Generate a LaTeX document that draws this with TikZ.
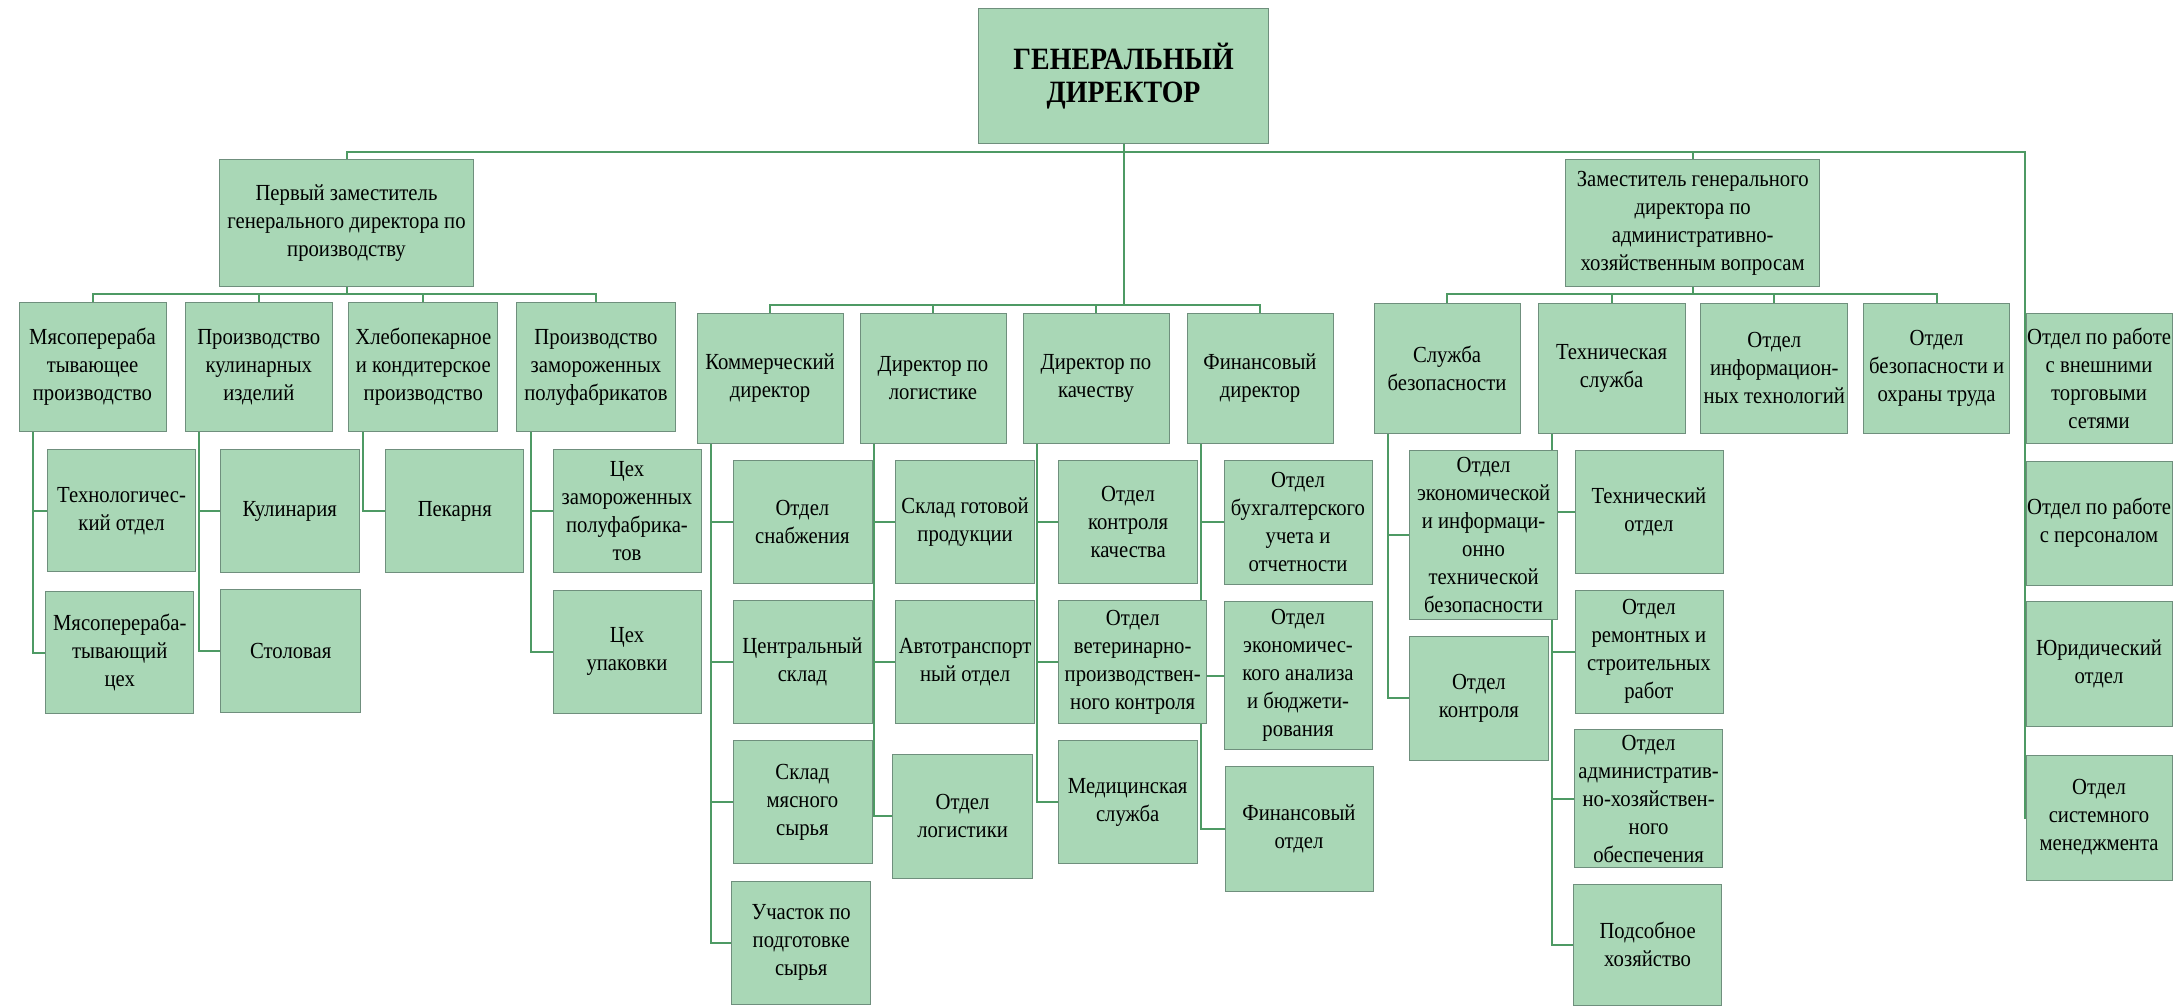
\documentclass[tikz,border=0pt]{standalone}
\usepackage{fontspec}
\setmainfont{Liberation Serif}[FakeStretch=0.9]
\usetikzlibrary{backgrounds}
\definecolor{boxgreen}{HTML}{A9D7B6}
\definecolor{boxedge}{HTML}{6F8F7D}
\definecolor{linkgreen}{HTML}{4E9A64}

\begin{document}
\begin{tikzpicture}[
      x=1pt, y=-1pt,
      unit/.style={draw=boxedge, fill=boxgreen, line width=0.8pt, align=center, inner sep=1pt,
        font=\fontsize{23}{28}\selectfont},
      boxsize/.style 2 args={minimum width=#1, minimum height=#2},
      link/.style={draw=linkgreen, line width=2pt}
    ]
      \def\off{14.5}
      \useasboundingbox (0,0) rectangle (2176,1005);

      % Management
      \node[unit, boxsize={290}{135}, font=\bfseries\fontsize{31}{33}\selectfont] (gd) at (1123.6,75.7) {ГЕНЕРАЛЬНЫЙ\\ДИРЕКТОР};
      \node[unit, boxsize={254}{127}] (pz) at (346.5,222.8) {Первый заместитель\\генерального директора по\\производству};
      \node[unit, boxsize={254}{127}] (zah) at (1692.7,223.3) {Заместитель генерального\\директора по\\административно-\\хозяйственным вопросам};

      % Production
      \node[unit, boxsize={147}{129}] (mpp) at (92.5,367.2) {Мясоперераба\\тывающее\\производство};
      \node[unit, boxsize={147}{129}] (kul) at (258.8,367.2) {Производство\\кулинарных\\изделий};
      \node[unit, boxsize={149}{129}] (hleb) at (423.3,367.2) {Хлебопекарное\\и кондитерское\\производство};
      \node[unit, boxsize={159}{129}] (zpf) at (596,367.2) {Производство\\замороженных\\полуфабрикатов};

      \node[unit, boxsize={148}{122}] (tech) at (121.6,510.8) {Технологичес-\\кий отдел};
      \node[unit, boxsize={148}{122}] (mpc) at (119.8,652.5) {Мясоперераба-\\тывающий\\цех};
      \node[unit, boxsize={139}{123}] (kulin) at (289.7,511.3) {Кулинария};
      \node[unit, boxsize={140}{123}] (stol) at (290.8,651.3) {Столовая};
      \node[unit, boxsize={138}{123}] (pek) at (454.8,511.3) {Пекарня};
      \node[unit, boxsize={148}{123}] (chz) at (627,511.3) {Цех\\замороженных\\полуфабрика-\\тов};
      \node[unit, boxsize={148}{123}] (chu) at (627,651.7) {Цех\\упаковки};

      % Directors
      \node[unit, boxsize={146}{130}] (kom) at (770,378.3) {Коммерческий\\директор};
      \node[unit, boxsize={146}{130}] (lgd) at (933,378.3) {Директор по\\логистике};
      \node[unit, boxsize={146}{130}] (kach) at (1096,378.3) {Директор по\\качеству};
      \node[unit, boxsize={146}{130}] (fin) at (1260,378.3) {Финансовый\\директор};

      \node[unit, boxsize={139}{123}] (snab) at (802.4,521.7) {Отдел\\снабжения};
      \node[unit, boxsize={139}{123}] (csk) at (802.4,661.7) {Центральный\\склад};
      \node[unit, boxsize={139}{123}] (skms) at (802.4,802.3) {Склад\\мясного\\сырья};
      \node[unit, boxsize={139}{123}] (uch) at (801.2,942.5) {Участок по\\подготовке\\сырья};
      \node[unit, boxsize={139}{123}] (sgp) at (965.1,521.7) {Склад готовой\\продукции};
      \node[unit, boxsize={139}{123}] (avto) at (965.1,662) {Автотранспорт\\ный отдел};
      \node[unit, boxsize={140}{124}] (olog) at (962.6,816.2) {Отдел\\логистики};
      \node[unit, boxsize={139}{123}] (okk) at (1128.1,521.5) {Отдел\\контроля\\качества};
      \node[unit, boxsize={148}{123}] (vet) at (1132.7,662) {Отдел\\ветеринарно-\\производствен-\\ного контроля};
      \node[unit, boxsize={139}{123}] (med) at (1127.7,802.3) {Медицинская\\служба};
      \node[unit, boxsize={148}{124}] (buh) at (1298,522) {Отдел\\бухгалтерского\\учета и\\отчетности};
      \node[unit, boxsize={148}{148}] (econ) at (1298,675.8) {Отдел\\экономичес-\\кого анализа\\и бюджети-\\рования};
      \node[unit, boxsize={148}{125}] (fotd) at (1299,829.2) {Финансовый\\отдел};

      % Administration
      \node[unit, boxsize={146}{130}] (sb) at (1447,368) {Служба\\безопасности};
      \node[unit, boxsize={147}{130}] (ts) at (1611.6,368) {Техническая\\служба};
      \node[unit, boxsize={147}{130}] (it) at (1774.3,368) {Отдел\\информацион-\\ных технологий};
      \node[unit, boxsize={146}{130}] (ohr) at (1936.6,368) {Отдел\\безопасности и\\охраны труда};

      \node[unit, boxsize={148}{169}] (oeib) at (1483.6,534.7) {Отдел\\экономической\\и информаци-\\онно\\технической\\безопасности};
      \node[unit, boxsize={139}{124}] (okon) at (1478.9,698) {Отдел\\контроля};
      \node[unit, boxsize={148}{123}] (tehotd) at (1648.9,511.7) {Технический\\отдел};
      \node[unit, boxsize={148}{123}] (rem) at (1648.9,651.7) {Отдел\\ремонтных и\\строительных\\работ};
      \node[unit, boxsize={148}{138}] (adm) at (1648.6,798.5) {Отдел\\административ-\\но-хозяйствен-\\ного\\обеспечения};
      \node[unit, boxsize={148}{121}] (pods) at (1647.6,944.5) {Подсобное\\хозяйство};

      % Right column
      \node[unit, boxsize={146}{130}] (r1) at (2099,378.3) {Отдел по работе\\с внешними\\торговыми\\сетями};
      \node[unit, boxsize={146}{124}] (r2) at (2099,523) {Отдел по работе\\с персоналом};
      \node[unit, boxsize={146}{125}] (r3) at (2099,664) {Юридический\\отдел};
      \node[unit, boxsize={146}{125}] (r4) at (2099,817.5) {Отдел\\системного\\менеджмента};

      % Buses
      \coordinate (bus0) at (0,152);
      \coordinate (pzbus) at (0,293.5);
      \coordinate (gdbus) at (0,305);
      \coordinate (zahbus) at (0,294);
      \coordinate (rbus) at (2024.5,0);

      \begin{scope}[on background layer]
        \draw[link] (pz.north) |- (rbus |- bus0) -- (rbus |- r4.west) -- (r4.west);
        \foreach \n in {r1,r2,r3}
          \draw[link] (rbus |- \n.west) -- (\n.west);
        \draw[link] (zah.north) -- (zah.north |- bus0);
        \draw[link] (gd.south) -- (gd.south |- gdbus);

        \draw[link] (pz.south) -- (pz.south |- pzbus);
        \draw[link] (mpp.north) |- (pz.south |- pzbus) -| (zpf.north);
        \draw[link] (kom.north) |- (gd.south |- gdbus) -| (fin.north);
        \draw[link] (zah.south) -- (zah.south |- zahbus);
        \draw[link] (sb.north) |- (zah.south |- zahbus) -| (ohr.north);
        \foreach \n/\b in {kul/pzbus, hleb/pzbus, lgd/gdbus, kach/gdbus, ts/zahbus, it/zahbus}
          \draw[link] (\n.north) -- (\n.north |- \b);

        % Departments
        \foreach \p/\cs in {mpp/{tech,mpc}, kul/{kulin,stol}, hleb/{pek}, zpf/{chz,chu},
            kom/{snab,csk,skms,uch}, lgd/{sgp,avto,olog}, kach/{okk,vet,med}, fin/{buh,econ,fotd},
            sb/{oeib,okon}, ts/{tehotd,rem,adm,pods}} {
          \coordinate (\p-d) at ([xshift=\off]\p.south west);
          \foreach \c in \cs
            \draw[link] (\p-d) |- (\c.west);
        }
      \end{scope}
    \end{tikzpicture}
\end{document}
